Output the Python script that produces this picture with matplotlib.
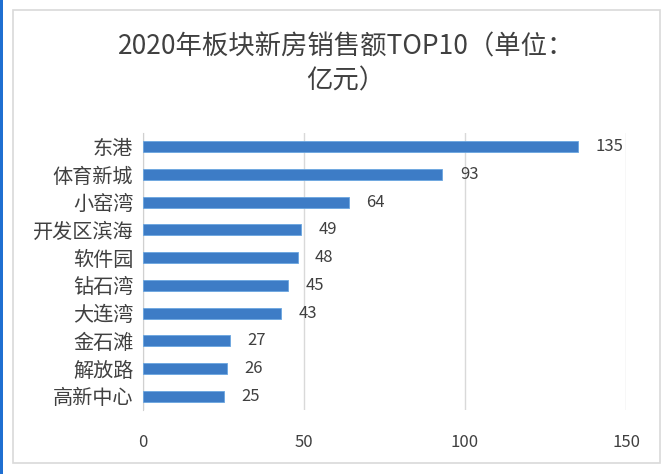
import matplotlib
matplotlib.use('Agg')
import matplotlib.pyplot as plt
from matplotlib.patches import Rectangle

plt.rcParams['font.family'] = ['Noto Sans CJK SC', 'DejaVu Sans']

# 板块与销售额（亿元）
areas = ['东港', '体育新城', '小窑湾', '开发区滨海', '软件园',
         '钻石湾', '大连湾', '金石滩', '解放路', '高新中心']
sales = [135, 93, 64, 49, 48, 45, 43, 27, 26, 25]
xticks = [0, 50, 100, 150]

text_color = '#404040'

fig = plt.figure(figsize=(6.72, 4.74), dpi=100)
fig.patch.set_facecolor('white')

# 外框和左侧蓝线
fig.patches.append(Rectangle((13 / 672, 1 - 463 / 474), (660 - 13) / 672, (463 - 10) / 474,
                             transform=fig.transFigure, fill=False,
                             edgecolor='#d9d9d9', linewidth=1.2))
fig.patches.append(Rectangle((0, 0), 3 / 672, 1, transform=fig.transFigure,
                             facecolor='#1f6fd1', edgecolor='none'))

ax = fig.add_axes([143 / 672, 1 - 410 / 474, (626 - 143) / 672, (410 - 133) / 474])

y = list(range(len(areas)))
ax.barh(y, sales, height=0.4, color='#3d7cc6', edgecolor='#6aa6e0', linewidth=0.6, zorder=3)
ax.set_ylim(len(areas) - 0.5, -0.5)
ax.set_xlim(0, 150)
ax.set_yticks(y)
ax.set_yticklabels(areas, fontsize=14.5, color=text_color)
ax.set_xticks(xticks)
ax.set_xticklabels([str(t) for t in xticks], fontsize=12, color=text_color)
ax.tick_params(axis='both', length=0)
ax.tick_params(axis='x', pad=17)
ax.tick_params(axis='y', pad=7)

ax.grid(axis='x', color='#d9d9d9', linewidth=1, zorder=0)
for s in ['top', 'right', 'bottom']:
    ax.spines[s].set_visible(False)
ax.spines['left'].set_color('#d0d0d0')

for yi, v in zip(y, sales):
    ax.annotate(str(v), (v, yi), xytext=(12.5, 0), textcoords='offset points',
                ha='left', va='center', fontsize=12, color=text_color)

fig.text(0.515, 1 - 64 / 474, '2020年板块新房销售额TOP10（单位：\n亿元）',
         ha='center', va='center', fontsize=19, color=text_color, linespacing=1.3)

fig.savefig('out.png', dpi=100)
